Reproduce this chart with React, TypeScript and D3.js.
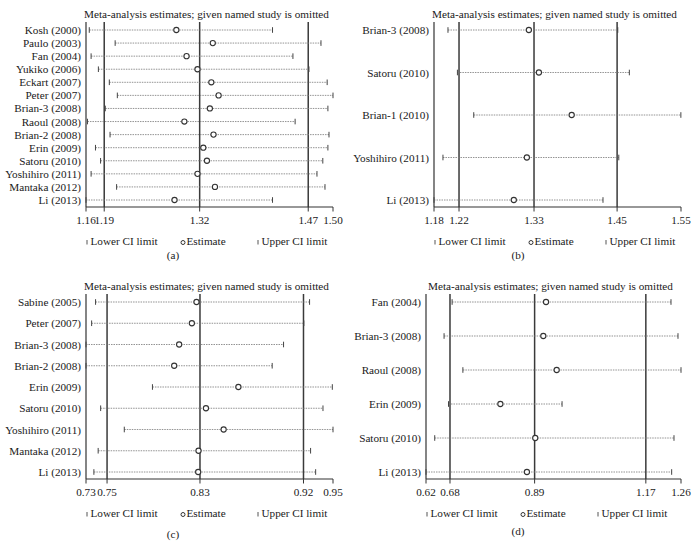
import React from "react";
import * as d3 from "d3";

// ---------- Data ----------
const TITLE = "Meta-analysis estimates; given named study is omitted";
const LEGEND = ["Lower CI limit", "Estimate", "Upper CI limit"];

// Panel (a)
const studiesA = [
  "Kosh (2000)", "Paulo (2003)", "Fan (2004)", "Yukiko (2006)", "Eckart (2007)",
  "Peter (2007)", "Brian-3 (2008)", "Raoul (2008)", "Brian-2 (2008)", "Erin (2009)",
  "Satoru (2010)", "Yoshihiro (2011)", "Mantaka (2012)", "Li (2013)",
];
const lowerA = [1.1655, 1.201, 1.168, 1.178, 1.193, 1.204, 1.1875, 1.163, 1.194, 1.174, 1.181, 1.168, 1.203, 1.161];
const estA = [1.285, 1.335, 1.299, 1.314, 1.333, 1.343, 1.331, 1.296, 1.336, 1.322, 1.327, 1.314, 1.338, 1.2825];
const upperA = [1.417, 1.4835, 1.445, 1.467, 1.492, 1.5, 1.493, 1.448, 1.4945, 1.493, 1.486, 1.478, 1.489, 1.417];
const ticksA = [1.161, 1.186, 1.317, 1.466, 1.5];

// Panel (b)
const studiesB = ["Brian-3 (2008)", "Satoru (2010)", "Brian-1 (2010)", "Yoshihiro (2011)", "Li (2013)"];
const lowerB = [1.2014, 1.2155, 1.2399, 1.1939, 1.1805];
const estB = [1.3223, 1.3373, 1.3863, 1.3193, 1.2998];
const upperB = [1.4552, 1.4725, 1.5495, 1.4567, 1.4331];
const ticksB = [1.1805, 1.2179, 1.33, 1.4542, 1.5497];

// Panel (c)
const studiesC = [
  "Sabine (2005)", "Peter (2007)", "Brian-3 (2008)", "Brian-2 (2008)", "Erin (2009)",
  "Satoru (2010)", "Yoshihiro (2011)", "Mantaka (2012)", "Li (2013)",
];
const lowerC = [0.7395, 0.736, 0.731, 0.731, 0.79, 0.744, 0.765, 0.7418, 0.738];
const estC = [0.8291, 0.825, 0.8137, 0.8093, 0.8663, 0.8375, 0.8532, 0.8309, 0.8306];
const upperC = [0.9295, 0.9244, 0.9064, 0.8963, 0.9497, 0.9414, 0.9503, 0.9304, 0.9349];
const ticksC = [0.731, 0.7497, 0.8322, 0.9241, 0.9503];

// Panel (d)
const studiesD = ["Fan (2004)", "Brian-3 (2008)", "Raoul (2008)", "Erin (2009)", "Satoru (2010)", "Li (2013)"];
const lowerD = [0.6885, 0.6684, 0.7154, 0.6795, 0.6451, 0.6233];
const estD = [0.923, 0.9162, 0.9496, 0.809, 0.8961, 0.8753];
const upperD = [1.235, 1.2525, 1.26, 0.963, 1.2425, 1.2367];
const ticksD = [0.6233, 0.6832, 0.8945, 1.1722, 1.26];

const captions = ["(a)", "(b)", "(c)", "(d)"];

// ---------- Layout ----------
const FONT = "'Liberation Serif', 'Times New Roman', serif";
const FS = 11.2;
const TXT = "#1a1a1a";

type PanelProps = {
  studies: string[];
  lower: number[];
  est: number[];
  upper: number[];
  ticks: number[];
  x0: number;
  x1: number;
  yTop: number;
  yBase: number;
  caption: string;
  capX: number;
  capY: number;
};

function Panel(p: PanelProps) {
  const x = d3.scaleLinear().domain([p.ticks[0], p.ticks[p.ticks.length - 1]]).range([p.x0, p.x1]);
  const y = d3.scalePoint<string>().domain(p.studies).range([p.yTop + 8, p.yBase - 7]);
  const fmt = d3.format(".2f");
  const refs = p.ticks.slice(1, -1);
  const legY = p.yBase + 34;
  const legX = [p.x0 + 1, p.x0 + 97, p.x0 + 172];
  return (
    <g>
      <text x={(p.x0 + p.x1) / 2 - 3} y={p.yTop - 8.5} textAnchor="middle" dominantBaseline="central"
        fontFamily={FONT} fontSize={FS} fill={TXT}>{TITLE}</text>
      {/* reference lines */}
      {refs.map((v, i) => (
        <line key={"r" + i} x1={x(v)} x2={x(v)} y1={p.yTop} y2={p.yBase} stroke="#3a3a3a" strokeWidth={1.5} />
      ))}
      {/* axes */}
      <line x1={p.x0} x2={p.x0} y1={p.yTop} y2={p.yBase} stroke="#333" strokeWidth={1.2} />
      <line x1={p.x0} x2={p.x1} y1={p.yBase} y2={p.yBase} stroke="#333" strokeWidth={1.2} />
      {p.ticks.map((v, i) => (
        <g key={"t" + i}>
          <line x1={x(v)} x2={x(v)} y1={p.yBase} y2={p.yBase + 4.5} stroke="#333" strokeWidth={1} />
          <text x={x(v)} y={p.yBase + 12.5} textAnchor="middle" dominantBaseline="central"
            fontFamily={FONT} fontSize={FS} fill={TXT}>{fmt(v)}</text>
        </g>
      ))}
      {/* rows */}
      {p.studies.map((s, i) => {
        const yy = y(s) as number;
        return (
          <g key={"s" + i}>
            <text x={p.x0 - 5} y={yy} textAnchor="end" dominantBaseline="central"
              fontFamily={FONT} fontSize={FS} fill={TXT}>{s}</text>
            <line x1={x(p.lower[i])} x2={x(p.upper[i])} y1={yy} y2={yy} stroke="#777" strokeWidth={0.8}
              strokeDasharray="1.5,1" />
            <line x1={x(p.lower[i])} x2={x(p.lower[i])} y1={yy - 2.8} y2={yy + 2.8} stroke="#444" strokeWidth={1} />
            <line x1={x(p.upper[i])} x2={x(p.upper[i])} y1={yy - 2.8} y2={yy + 2.8} stroke="#444" strokeWidth={1} />
            <circle cx={x(p.est[i])} cy={yy} r={2.6} fill="#fff" stroke="#333" strokeWidth={1.1} />
          </g>
        );
      })}
      {/* legend */}
      <line x1={legX[0]} x2={legX[0]} y1={legY - 1} y2={legY + 3.5} stroke="#555" strokeWidth={1} />
      <text x={legX[0] + 3.5} y={legY} dominantBaseline="central" fontFamily={FONT} fontSize={FS} fill={TXT}>{LEGEND[0]}</text>
      <circle cx={legX[1]} cy={legY + 1.5} r={2} fill="#fff" stroke="#333" strokeWidth={1} />
      <text x={legX[1] + 3.5} y={legY} dominantBaseline="central" fontFamily={FONT} fontSize={FS} fill={TXT}>{LEGEND[1]}</text>
      <line x1={legX[2]} x2={legX[2]} y1={legY - 1} y2={legY + 3.5} stroke="#555" strokeWidth={1} />
      <text x={legX[2] + 3.5} y={legY} dominantBaseline="central" fontFamily={FONT} fontSize={FS} fill={TXT}>{LEGEND[2]}</text>
      <text x={p.capX} y={p.capY} textAnchor="middle" dominantBaseline="central"
        fontFamily={FONT} fontSize={FS} fill={TXT}>{p.caption}</text>
    </g>
  );
}

export default function App() {
  return (
    <svg width={697} height={556} style={{ position: "absolute", left: 0, top: 0, background: "#fff" }}>
      <rect width={697} height={556} fill="#fff" />
      <Panel studies={studiesA} lower={lowerA} est={estA} upper={upperA} ticks={ticksA}
        x0={86} x1={333} yTop={22} yBase={207} caption={captions[0]} capX={173} capY={255} />
      <Panel studies={studiesB} lower={lowerB} est={estB} upper={upperB} ticks={ticksB}
        x0={434} x1={681} yTop={22} yBase={207} caption={captions[1]} capX={518} capY={255} />
      <Panel studies={studiesC} lower={lowerC} est={estC} upper={upperC} ticks={ticksC}
        x0={86} x1={333} yTop={294} yBase={479} caption={captions[2]} capX={173} capY={534} />
      <Panel studies={studiesD} lower={lowerD} est={estD} upper={upperD} ticks={ticksD}
        x0={426} x1={681} yTop={294} yBase={479} caption={captions[3]} capX={518} capY={531} />
    </svg>
  );
}
